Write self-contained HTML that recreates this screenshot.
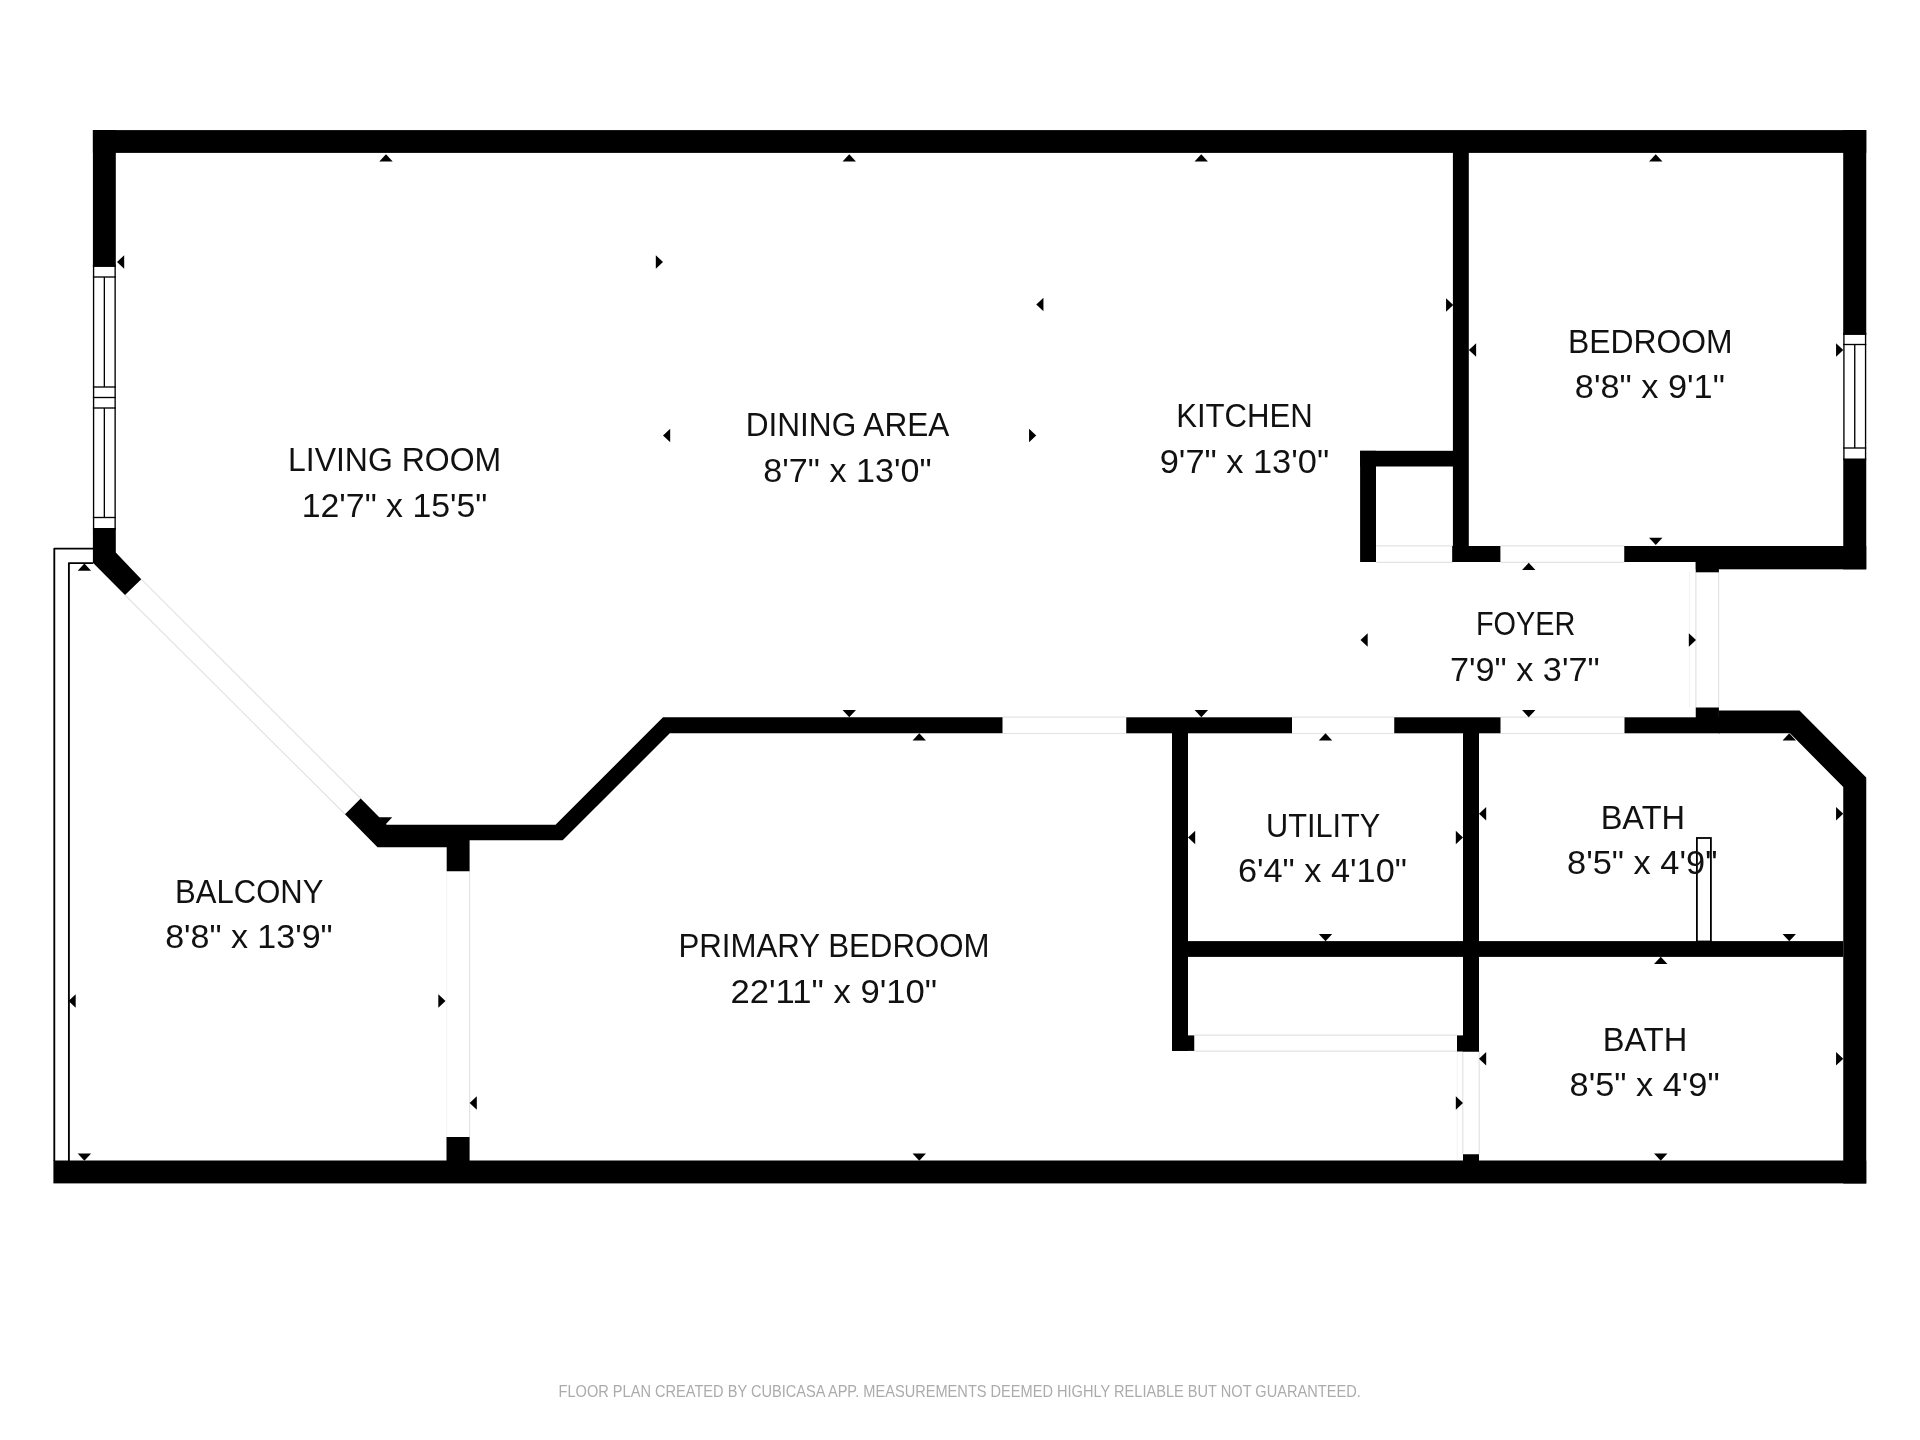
<!DOCTYPE html>
<html lang="en"><head><meta charset="utf-8"><title>Floor plan</title>
<style>html,body{margin:0;padding:0;background:#fff}body{width:1920px;height:1440px;overflow:hidden}svg{display:block;will-change:transform}</style>
</head><body>
<svg width="1920" height="1440" viewBox="0 0 1920 1440">
<rect width="1920" height="1440" fill="#fff"/>
<line x1="141.25" y1="579.20" x2="360.70" y2="798.50" stroke="#e3e3e3" stroke-width="1.20"/>
<line x1="125.00" y1="595.00" x2="345.00" y2="814.20" stroke="#e3e3e3" stroke-width="1.20"/>
<line x1="469.60" y1="871.00" x2="469.60" y2="1137.00" stroke="#e3e3e3" stroke-width="1.20"/>
<line x1="446.70" y1="871.00" x2="446.70" y2="1137.00" stroke="#f4f4f4" stroke-width="1.00"/>
<line x1="1002.50" y1="717.10" x2="1126.25" y2="717.10" stroke="#e3e3e3" stroke-width="1.20"/>
<line x1="1002.50" y1="733.50" x2="1126.25" y2="733.50" stroke="#e3e3e3" stroke-width="1.20"/>
<line x1="1292.00" y1="717.10" x2="1394.25" y2="717.10" stroke="#e3e3e3" stroke-width="1.20"/>
<line x1="1292.00" y1="733.50" x2="1394.25" y2="733.50" stroke="#e3e3e3" stroke-width="1.20"/>
<line x1="1500.50" y1="717.10" x2="1624.50" y2="717.10" stroke="#e3e3e3" stroke-width="1.20"/>
<line x1="1500.50" y1="733.50" x2="1624.50" y2="733.50" stroke="#e3e3e3" stroke-width="1.20"/>
<line x1="1376.25" y1="545.80" x2="1453.25" y2="545.80" stroke="#e3e3e3" stroke-width="1.20"/>
<line x1="1376.25" y1="562.30" x2="1453.25" y2="562.30" stroke="#e3e3e3" stroke-width="1.20"/>
<line x1="1500.50" y1="545.80" x2="1624.25" y2="545.80" stroke="#e3e3e3" stroke-width="1.20"/>
<line x1="1500.50" y1="562.30" x2="1624.25" y2="562.30" stroke="#e3e3e3" stroke-width="1.20"/>
<line x1="1695.90" y1="572.00" x2="1695.90" y2="707.50" stroke="#e3e3e3" stroke-width="1.20"/>
<line x1="1718.60" y1="572.00" x2="1718.60" y2="707.50" stroke="#e3e3e3" stroke-width="1.20"/>
<line x1="1689.60" y1="572.00" x2="1689.60" y2="707.50" stroke="#f3f3f3" stroke-width="1.20"/>
<line x1="1194.25" y1="1035.20" x2="1457.00" y2="1035.20" stroke="#e3e3e3" stroke-width="1.20"/>
<line x1="1194.25" y1="1051.10" x2="1457.00" y2="1051.10" stroke="#e3e3e3" stroke-width="1.20"/>
<line x1="1462.80" y1="1051.00" x2="1462.80" y2="1154.25" stroke="#e3e3e3" stroke-width="1.20"/>
<line x1="1479.20" y1="1051.00" x2="1479.20" y2="1154.25" stroke="#e3e3e3" stroke-width="1.20"/>
<line x1="1457.30" y1="1051.00" x2="1457.30" y2="1160.00" stroke="#f4f4f4" stroke-width="1.20"/>
<rect x="92.90" y="264.65" width="22.90" height="264.95" fill="#fff"/>
<rect x="93.58" y="265.32" width="21.55" height="263.60" fill="none" stroke="#000" stroke-width="1.35"/>
<line x1="92.90" y1="266.25" x2="115.80" y2="266.25" stroke="#000" stroke-width="1.35"/>
<line x1="92.90" y1="277.00" x2="115.80" y2="277.00" stroke="#000" stroke-width="1.35"/>
<line x1="104.35" y1="277.00" x2="104.35" y2="387.00" stroke="#000" stroke-width="1.35"/>
<line x1="92.90" y1="387.00" x2="115.80" y2="387.00" stroke="#000" stroke-width="1.35"/>
<line x1="92.90" y1="397.50" x2="115.80" y2="397.50" stroke="#000" stroke-width="1.35"/>
<line x1="92.90" y1="408.00" x2="115.80" y2="408.00" stroke="#000" stroke-width="1.35"/>
<line x1="104.35" y1="408.00" x2="104.35" y2="517.50" stroke="#000" stroke-width="1.35"/>
<line x1="92.90" y1="517.50" x2="115.80" y2="517.50" stroke="#000" stroke-width="1.35"/>
<rect x="1843.25" y="332.65" width="23.00" height="127.70" fill="#fff"/>
<rect x="1843.92" y="333.32" width="21.65" height="126.35" fill="none" stroke="#000" stroke-width="1.35"/>
<line x1="1843.25" y1="334.25" x2="1866.25" y2="334.25" stroke="#000" stroke-width="1.35"/>
<line x1="1843.25" y1="344.50" x2="1866.25" y2="344.50" stroke="#000" stroke-width="1.35"/>
<line x1="1854.75" y1="344.50" x2="1854.75" y2="448.00" stroke="#000" stroke-width="1.35"/>
<line x1="1843.25" y1="448.00" x2="1866.25" y2="448.00" stroke="#000" stroke-width="1.35"/>
<rect x="92.90" y="130.10" width="1773.35" height="22.80" fill="#000"/>
<rect x="92.90" y="130.10" width="22.90" height="136.15" fill="#000"/>
<polygon points="92.90,527.90 115.80,527.90 115.80,552.50 141.25,579.20 125.00,595.00 92.90,562.80" fill="#000"/>
<polygon points="360.70,798.50 386.70,824.80 555.50,824.80 663.00,717.30 1002.50,717.30 1002.50,733.30 669.80,733.30 562.70,840.30 469.60,840.30 469.60,871.25 446.70,871.25 446.70,847.30 377.50,847.30 345.00,814.20" fill="#000"/>
<rect x="446.50" y="1137.00" width="23.10" height="24.00" fill="#000"/>
<rect x="53.40" y="1160.50" width="1812.85" height="22.90" fill="#000"/>
<rect x="1843.20" y="130.10" width="23.05" height="204.15" fill="#000"/>
<rect x="1843.25" y="458.50" width="23.00" height="110.80" fill="#000"/>
<rect x="1695.75" y="546.00" width="170.50" height="23.30" fill="#000"/>
<rect x="1695.75" y="546.00" width="23.15" height="26.30" fill="#000"/>
<rect x="1695.75" y="707.50" width="23.15" height="25.50" fill="#000"/>
<polygon points="1718.75,710.50 1799.50,710.50 1866.25,777.60 1866.25,1183.40 1843.25,1183.40 1843.25,787.00 1790.00,733.30 1718.75,733.30" fill="#000"/>
<rect x="1126.25" y="717.30" width="165.75" height="16.00" fill="#000"/>
<rect x="1394.25" y="717.30" width="106.25" height="16.00" fill="#000"/>
<rect x="1624.50" y="717.30" width="95.50" height="16.00" fill="#000"/>
<rect x="1172.00" y="733.00" width="16.00" height="317.90" fill="#000"/>
<rect x="1172.00" y="1035.40" width="22.25" height="15.50" fill="#000"/>
<rect x="1172.00" y="941.10" width="671.25" height="15.80" fill="#000"/>
<rect x="1463.00" y="733.00" width="16.00" height="318.50" fill="#000"/>
<rect x="1457.00" y="1035.40" width="22.00" height="16.10" fill="#000"/>
<rect x="1463.00" y="1154.25" width="16.00" height="6.75" fill="#000"/>
<rect x="1360.10" y="450.80" width="93.15" height="15.70" fill="#000"/>
<rect x="1360.10" y="450.80" width="15.90" height="111.20" fill="#000"/>
<rect x="1452.90" y="152.00" width="15.90" height="410.00" fill="#000"/>
<rect x="1452.20" y="546.00" width="48.20" height="16.00" fill="#000"/>
<rect x="1624.25" y="546.00" width="71.75" height="16.00" fill="#000"/>
<path d="M93.2,548.6 H54.3 V1161" fill="none" stroke="#000" stroke-width="1.85" stroke-linejoin="round"/>
<path d="M93.2,563.1 H68.9 V1161" fill="none" stroke="#000" stroke-width="1.85" stroke-linejoin="round"/>
<rect x="1696.9" y="838" width="14" height="103.5" fill="none" stroke="#000" stroke-width="1.8"/>
<polygon points="386.00,154.30 379.30,161.50 392.70,161.50" fill="#000"/>
<polygon points="849.25,154.30 842.55,161.50 855.95,161.50" fill="#000"/>
<polygon points="1201.25,154.30 1194.55,161.50 1207.95,161.50" fill="#000"/>
<polygon points="1655.75,154.30 1649.05,161.50 1662.45,161.50" fill="#000"/>
<polygon points="117.00,262.00 124.20,255.30 124.20,268.70" fill="#000"/>
<polygon points="663.00,262.00 655.80,255.30 655.80,268.70" fill="#000"/>
<polygon points="1036.25,304.50 1043.45,297.80 1043.45,311.20" fill="#000"/>
<polygon points="1453.25,305.00 1446.05,298.30 1446.05,311.70" fill="#000"/>
<polygon points="663.00,435.50 670.20,428.80 670.20,442.20" fill="#000"/>
<polygon points="1036.25,435.50 1029.05,428.80 1029.05,442.20" fill="#000"/>
<polygon points="1468.90,350.00 1476.10,343.30 1476.10,356.70" fill="#000"/>
<polygon points="1843.25,350.00 1836.05,343.30 1836.05,356.70" fill="#000"/>
<polygon points="1655.75,545.00 1649.05,537.80 1662.45,537.80" fill="#000"/>
<polygon points="1528.75,562.80 1522.05,570.00 1535.45,570.00" fill="#000"/>
<polygon points="1528.75,717.30 1522.05,710.10 1535.45,710.10" fill="#000"/>
<polygon points="1360.50,640.00 1367.70,633.30 1367.70,646.70" fill="#000"/>
<polygon points="1696.00,640.00 1688.80,633.30 1688.80,646.70" fill="#000"/>
<polygon points="849.25,717.30 842.55,710.10 855.95,710.10" fill="#000"/>
<polygon points="919.25,733.30 912.55,740.50 925.95,740.50" fill="#000"/>
<polygon points="1201.35,717.30 1194.65,710.10 1208.05,710.10" fill="#000"/>
<polygon points="1325.50,733.30 1318.80,740.50 1332.20,740.50" fill="#000"/>
<polygon points="1789.25,733.30 1782.55,740.50 1795.95,740.50" fill="#000"/>
<polygon points="84.40,563.50 77.70,570.70 91.10,570.70" fill="#000"/>
<polygon points="84.40,1160.75 77.70,1153.55 91.10,1153.55" fill="#000"/>
<polygon points="68.50,1001.00 75.70,994.30 75.70,1007.70" fill="#000"/>
<polygon points="445.50,1001.00 438.30,994.30 438.30,1007.70" fill="#000"/>
<polygon points="469.60,1103.00 476.80,1096.30 476.80,1109.70" fill="#000"/>
<polygon points="1463.00,1103.00 1455.80,1096.30 1455.80,1109.70" fill="#000"/>
<polygon points="919.25,1160.75 912.55,1153.55 925.95,1153.55" fill="#000"/>
<polygon points="385.50,824.50 378.80,817.30 392.20,817.30" fill="#000"/>
<polygon points="1188.00,837.50 1195.20,830.80 1195.20,844.20" fill="#000"/>
<polygon points="1463.00,837.50 1455.80,830.80 1455.80,844.20" fill="#000"/>
<polygon points="1325.50,941.25 1318.80,934.05 1332.20,934.05" fill="#000"/>
<polygon points="1479.00,813.75 1486.20,807.05 1486.20,820.45" fill="#000"/>
<polygon points="1843.25,813.75 1836.05,807.05 1836.05,820.45" fill="#000"/>
<polygon points="1789.25,941.25 1782.55,934.05 1795.95,934.05" fill="#000"/>
<polygon points="1660.75,956.75 1654.05,963.95 1667.45,963.95" fill="#000"/>
<polygon points="1660.75,1160.75 1654.05,1153.55 1667.45,1153.55" fill="#000"/>
<polygon points="1479.00,1058.75 1486.20,1052.05 1486.20,1065.45" fill="#000"/>
<polygon points="1843.25,1058.75 1836.05,1052.05 1836.05,1065.45" fill="#000"/>
<g font-family="'Liberation Sans', Arial, sans-serif" font-size="32.7" fill="#111">
<text x="287.97" y="470.50" textLength="213.19" lengthAdjust="spacingAndGlyphs">LIVING ROOM</text>
<text x="301.74" y="516.50" textLength="185.58" lengthAdjust="spacingAndGlyphs">12'7" x 15'5"</text>
<text x="745.67" y="436.00" textLength="203.74" lengthAdjust="spacingAndGlyphs">DINING AREA</text>
<text x="763.39" y="481.50" textLength="168.18" lengthAdjust="spacingAndGlyphs">8'7" x 13'0"</text>
<text x="1176.13" y="427.00" textLength="136.70" lengthAdjust="spacingAndGlyphs">KITCHEN</text>
<text x="1159.74" y="472.50" textLength="169.37" lengthAdjust="spacingAndGlyphs">9'7" x 13'0"</text>
<text x="1568.03" y="352.50" textLength="164.66" lengthAdjust="spacingAndGlyphs">BEDROOM</text>
<text x="1574.85" y="397.50" textLength="149.97" lengthAdjust="spacingAndGlyphs">8'8" x 9'1"</text>
<text x="1475.96" y="634.50" textLength="99.41" lengthAdjust="spacingAndGlyphs">FOYER</text>
<text x="1449.97" y="680.50" textLength="149.66" lengthAdjust="spacingAndGlyphs">7'9" x 3'7"</text>
<text x="1266.00" y="836.50" textLength="114.28" lengthAdjust="spacingAndGlyphs">UTILITY</text>
<text x="1237.95" y="881.50" textLength="168.96" lengthAdjust="spacingAndGlyphs">6'4" x 4'10"</text>
<text x="1600.67" y="828.50" textLength="84.44" lengthAdjust="spacingAndGlyphs">BATH</text>
<text x="1567.09" y="874.00" textLength="150.29" lengthAdjust="spacingAndGlyphs">8'5" x 4'9"</text>
<text x="1602.78" y="1050.50" textLength="84.57" lengthAdjust="spacingAndGlyphs">BATH</text>
<text x="1569.61" y="1096.00" textLength="150.02" lengthAdjust="spacingAndGlyphs">8'5" x 4'9"</text>
<text x="175.12" y="903.00" textLength="148.29" lengthAdjust="spacingAndGlyphs">BALCONY</text>
<text x="165.15" y="948.00" textLength="167.48" lengthAdjust="spacingAndGlyphs">8'8" x 13'9"</text>
<text x="678.52" y="957.00" textLength="310.95" lengthAdjust="spacingAndGlyphs">PRIMARY BEDROOM</text>
<text x="730.49" y="1002.50" textLength="206.65" lengthAdjust="spacingAndGlyphs">22'11" x 9'10"</text>
<text x="558.52" y="1397.00" textLength="802.23" lengthAdjust="spacingAndGlyphs" font-size="15.7" fill="#ababab">FLOOR PLAN CREATED BY CUBICASA APP. MEASUREMENTS DEEMED HIGHLY RELIABLE BUT NOT GUARANTEED.</text>
</g>
</svg>
</body></html>
